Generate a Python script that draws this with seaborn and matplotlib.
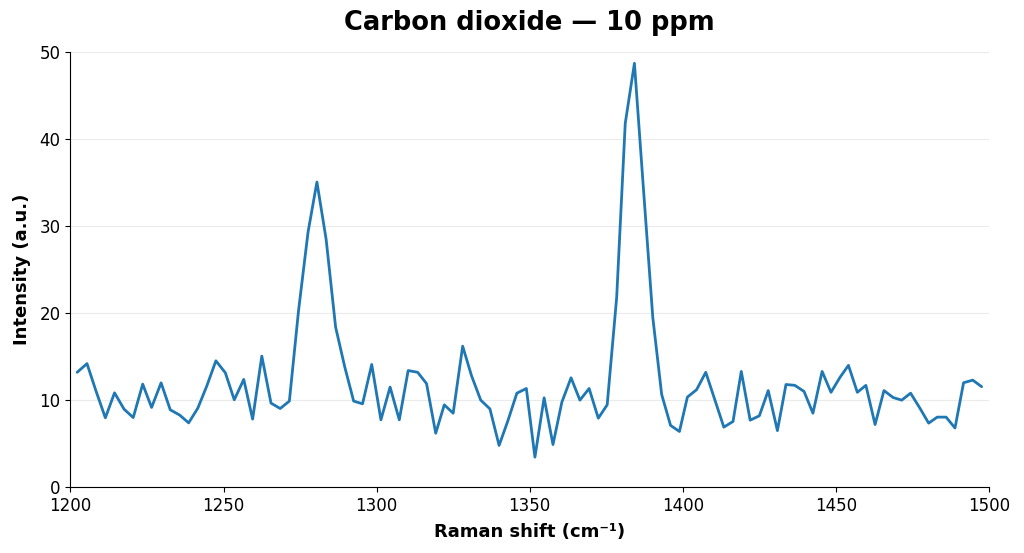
import numpy as np
import pandas as pd
import matplotlib
matplotlib.use("Agg")
import matplotlib.pyplot as plt
import seaborn as sns

# deslocamento Raman (o espaçamento não é uniforme)
raman = [1202.2, 1205.4, 1208.3, 1211.4, 1214.4, 1217.5, 1220.5, 1223.6, 1226.5, 1229.6,
         1232.6, 1235.7, 1238.6, 1241.6, 1244.6, 1247.5, 1250.6, 1253.5, 1256.6, 1259.5,
         1262.5, 1265.5, 1268.5, 1271.5, 1274.5, 1277.6, 1280.5, 1283.5, 1286.6, 1289.6,
         1292.5, 1295.4, 1298.4,
         1301.4, 1304.4, 1307.4, 1310.3, 1313.4, 1316.3, 1319.3, 1322.1, 1325.0, 1328.1,
         1331.0, 1334.0, 1337.0, 1340.0, 1342.9, 1345.8, 1348.9, 1351.7, 1354.7, 1357.6,
         1360.5, 1363.5, 1366.4, 1369.4, 1372.4, 1375.3, 1378.4, 1381.2, 1384.2, 1387.1,
         1390.2, 1393.1, 1396.0,
         1398.9, 1401.5, 1404.5, 1407.5, 1410.5, 1413.4, 1416.4, 1419.1, 1422.0, 1425.0,
         1427.9, 1430.9, 1433.7, 1436.6, 1439.6, 1442.5, 1445.5, 1448.4, 1451.3, 1454.1,
         1457.0, 1459.8, 1462.8, 1465.7, 1468.7, 1471.5, 1474.4, 1477.4, 1480.3, 1483.1,
         1486.0, 1488.9, 1491.7, 1494.7, 1497.6]

intensidade = [13.2, 14.2, 11.1, 7.97, 10.84, 8.97, 8.0, 11.84, 9.16, 11.99,
               8.89, 8.28, 7.39, 9.08, 11.69, 14.52, 13.14, 10.04, 12.38, 7.82,
               15.06, 9.66, 9.04, 9.89, 20.3, 29.3, 35.06, 28.5, 18.4, 13.8,
               9.89, 9.58, 14.1,
               7.74, 11.5, 7.74, 13.4, 13.2, 11.9, 6.2, 9.46, 8.5, 16.2,
               12.8, 10.0, 9.0, 4.8, 7.66, 10.8, 11.34, 3.45, 10.27, 4.9,
               9.77, 12.57, 10.0, 11.34, 7.93, 9.46, 21.8, 41.8, 48.7, 34.5,
               19.5, 10.65, 7.1,
               6.4, 10.35, 11.2, 13.2, 10.0, 6.9, 7.55, 13.3, 7.7, 8.2,
               11.1, 6.5, 11.8, 11.7, 11.0, 8.5, 13.3, 10.9, 12.6, 14.0,
               10.9, 11.7, 7.2, 11.1, 10.3, 10.0, 10.8, 9.1, 7.36, 8.05,
               8.05, 6.8, 12.0, 12.3, 11.55]

df = pd.DataFrame({"raman": raman, "intensidade": intensidade})

sns.set_style("ticks")
plt.rcParams['font.family'] = ['DejaVu Sans']
plt.rcParams['text.color'] = 'black'
plt.rcParams['axes.labelcolor'] = 'black'
plt.rcParams['xtick.color'] = 'black'
plt.rcParams['ytick.color'] = 'black'
plt.rcParams['axes.edgecolor'] = 'black'

fig, ax = plt.subplots(figsize=(10.24, 5.53), dpi=100)
fig.subplots_adjust(left=0.0688, right=0.9658, top=0.906, bottom=0.119)

sns.lineplot(data=df, x="raman", y="intensidade", color="#1f77b4",
             linewidth=2, ax=ax)

ax.set_xlim(1200, 1500)
ax.set_ylim(0, 50)
ax.set_xticks([1200, 1250, 1300, 1350, 1400, 1450, 1500])
ax.set_yticks([0, 10, 20, 30, 40, 50])
ax.yaxis.grid(True, color="#ebebeb", linewidth=0.8)
ax.set_axisbelow(True)
sns.despine(ax=ax)

ax.tick_params(labelsize=12, colors="black")
ax.set_title("Carbon dioxide — 10 ppm", fontsize=18.5, fontweight="bold", pad=16,
             color="black")
ax.set_xlabel("Raman shift (cm⁻¹)", fontsize=13, fontweight="bold", labelpad=5.5)
ax.set_ylabel("Intensity (a.u.)", fontsize=13, fontweight="bold", labelpad=6.5)

plt.savefig("out.png", dpi=100)
